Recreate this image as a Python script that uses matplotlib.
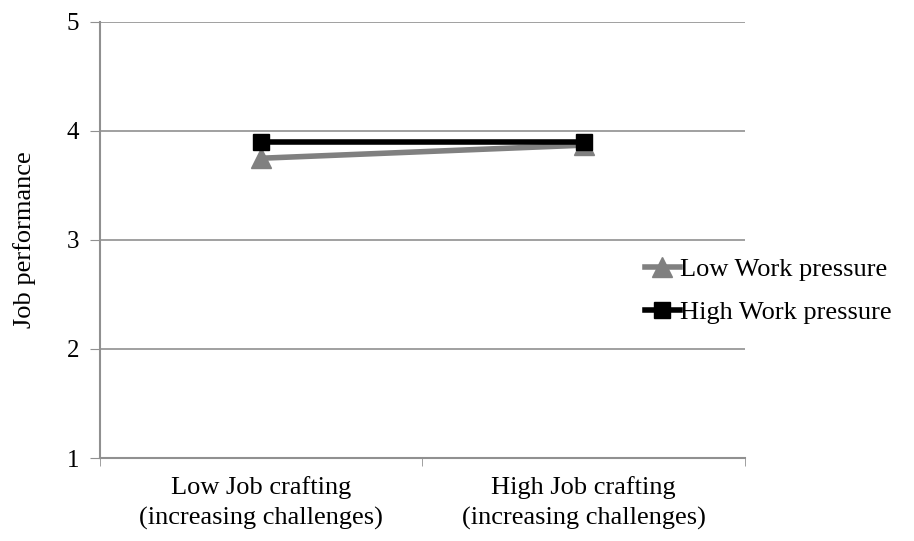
import numpy as np
import matplotlib
matplotlib.use("Agg")
import matplotlib.pyplot as plt

categories = ["Low Job crafting\n(increasing challenges)",
              "High Job crafting\n(increasing challenges)"]
low_pressure = [3.75, 3.87]
high_pressure = [3.90, 3.90]
series_names = ["Low Work pressure", "High Work pressure"]

plt.rcParams['font.family'] = ['Liberation Serif', 'DejaVu Serif']

fig = plt.figure(figsize=(9.14, 5.41), dpi=100)
ax = fig.add_axes([0.1094, 0.1534, 0.7056, 0.806])

x = np.arange(len(categories))
ax.plot(x, low_pressure, color='#808080', lw=4, marker='^', ms=14,
        label=series_names[0], zorder=3)
ax.plot(x, high_pressure, color='black', lw=4, marker='s', ms=12,
        label=series_names[1], zorder=4)

ax.set_xlim(-0.5, 1.5)
ax.set_ylim(1, 5)
ax.set_yticks([1, 2, 3, 4, 5])
ax.set_xticks(x)
ax.set_xticklabels(categories)
for lbl in ax.get_xticklabels():
    lbl.set_linespacing(1.45)
ax.set_xticks([-0.5, 0, 0.5, 1, 1.5], minor=True)
ax.tick_params(axis='x', which='major', length=0, pad=13, labelsize=19)
ax.tick_params(axis='x', which='minor', length=6, color='#909090', direction='out')
ax.tick_params(axis='y', length=7, color='#909090', labelsize=18, pad=8)

ax.yaxis.grid(True, color='#909090', lw=1.2)
ax.set_axisbelow(True)
for s in ['top', 'right']:
    ax.spines[s].set_visible(False)
for s in ['left', 'bottom']:
    ax.spines[s].set_color('#909090')
    ax.spines[s].set_linewidth(1.5)

ax.set_ylabel("Job performance", fontsize=19, labelpad=22)

fig.legend(loc='center left', bbox_to_anchor=(0.706, 0.462), frameon=False,
           fontsize=19, handlelength=1.3, handletextpad=0.0,
           labelspacing=0.75, borderaxespad=0, borderpad=0)

fig.savefig("out.png", dpi=100)
